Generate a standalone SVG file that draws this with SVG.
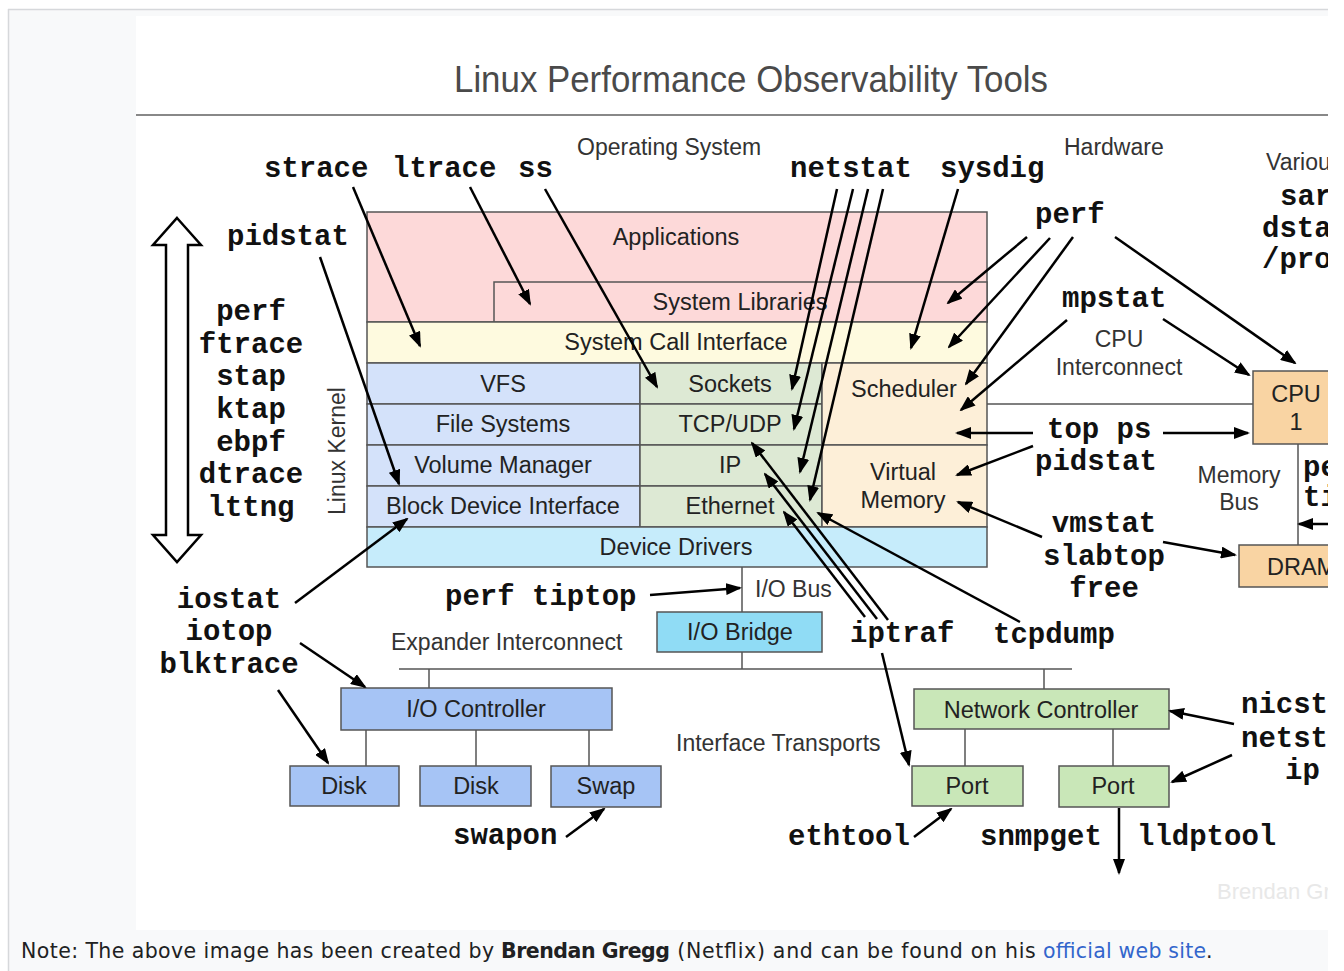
<svg xmlns="http://www.w3.org/2000/svg" width="1344" height="971" viewBox="0 0 1344 971">
<style>
.box{stroke:#555;stroke-width:1.5}
.lbl{font-family:"Liberation Sans",Arial,sans-serif;font-size:23.5px;fill:#222;text-anchor:middle}
.ann{font-family:"Liberation Sans",Arial,sans-serif;font-size:23px;fill:#333}
.mid{text-anchor:middle}
.tool{font-family:"Liberation Mono","Courier New",monospace;font-weight:bold;font-size:29px;fill:#111}
.arr{stroke:#000;stroke-width:2.5;fill:none;marker-end:url(#ah)}
.ln{stroke:#555;stroke-width:1.5;fill:none}
.pink{fill:#fdd9d9}.yel{fill:#fefadf}.blue{fill:#d4e2fa}.grn{fill:#dde9d4}.org{fill:#fdefd8}.cyan{fill:#c6ecfb}
.bridge{fill:#90dcf5}.dblue{fill:#a6c4f5}.lgrn{fill:#c9e7b8}.hw{fill:#f9d4a3}
.note{font-family:"DejaVu Sans",Verdana,sans-serif;font-size:20.5px;fill:#202122}
</style>
<defs>
<marker id="ah" viewBox="0 0 16 12" refX="14" refY="6" markerWidth="16" markerHeight="12" markerUnits="userSpaceOnUse" orient="auto">
<path d="M0,0 L16,6 L0,12 z" fill="#000"/>
</marker>
</defs>

<!-- page frame -->
<rect x="8" y="9" width="1320" height="962" fill="#f8f9fa"/>
<line x1="8" y1="9.5" x2="1328" y2="9.5" stroke="#d6d8db" stroke-width="1.5"/>
<line x1="8.5" y1="9" x2="8.5" y2="971" stroke="#d6d8db" stroke-width="1.5"/>
<rect x="136" y="16" width="1192" height="914" fill="#fff"/>

<!-- title -->
<g id="title">
<text x="454" y="92" font-family="'Liberation Sans',Arial,sans-serif" font-size="37" fill="#4a4a4a" textLength="594" lengthAdjust="spacingAndGlyphs">Linux Performance Observability Tools</text>
<line x1="136" y1="115" x2="1328" y2="115" stroke="#888" stroke-width="2"/>
</g>

<!-- region annotations -->
<g id="annotations">
<text class="ann" x="577" y="155">Operating System</text>
<text class="ann" x="1064" y="155">Hardware</text>
<text class="ann" x="1266" y="170">Variou</text>
<text class="ann mid" x="1119" y="347">CPU</text>
<text class="ann mid" x="1119" y="375">Interconnect</text>
<text class="ann mid" x="1239" y="483">Memory</text>
<text class="ann mid" x="1239" y="510">Bus</text>
<text class="ann" x="755" y="597">I/O Bus</text>
<text class="ann" x="391" y="650">Expander Interconnect</text>
<text class="ann" x="676" y="751">Interface Transports</text>
<text class="ann" transform="translate(345,515) rotate(-90)">Linux Kernel</text>
</g>

<!-- kernel stack -->
<g id="applications"><rect class="box pink" x="367" y="212" width="620" height="110"/><text class="lbl" x="676" y="245">Applications</text></g>
<g id="system-libraries"><rect class="box pink" x="494" y="282" width="493" height="40"/><text class="lbl" x="740" y="310">System Libraries</text></g>
<g id="system-call-interface"><rect class="box yel" x="367" y="322" width="620" height="41"/><text class="lbl" x="676" y="350">System Call Interface</text></g>
<g id="vfs"><rect class="box blue" x="367" y="363" width="273" height="41"/><text class="lbl" x="503" y="392">VFS</text></g>
<g id="file-systems"><rect class="box blue" x="367" y="404" width="273" height="41"/><text class="lbl" x="503" y="432">File Systems</text></g>
<g id="volume-manager"><rect class="box blue" x="367" y="445" width="273" height="41"/><text class="lbl" x="503" y="473">Volume Manager</text></g>
<g id="block-device-interface"><rect class="box blue" x="367" y="486" width="273" height="41"/><text class="lbl" x="503" y="514">Block Device Interface</text></g>
<g id="sockets"><rect class="box grn" x="640" y="363" width="182" height="41"/><text class="lbl" x="730" y="392">Sockets</text></g>
<g id="tcp-udp"><rect class="box grn" x="640" y="404" width="182" height="41"/><text class="lbl" x="730" y="432">TCP/UDP</text></g>
<g id="ip"><rect class="box grn" x="640" y="445" width="182" height="41"/><text class="lbl" x="730" y="473">IP</text></g>
<g id="ethernet"><rect class="box grn" x="640" y="486" width="182" height="41"/><text class="lbl" x="730" y="514">Ethernet</text></g>
<g id="scheduler"><rect class="box org" x="822" y="363" width="165" height="82"/><text class="lbl" x="904" y="397">Scheduler</text></g>
<g id="virtual-memory"><rect class="box org" x="822" y="445" width="165" height="82"/><text class="lbl" x="903" y="480">Virtual</text><text class="lbl" x="903" y="508">Memory</text></g>
<g id="device-drivers"><rect class="box cyan" x="367" y="527" width="620" height="40"/><text class="lbl" x="676" y="555">Device Drivers</text></g>

<!-- hardware -->
<g id="cpu"><rect class="box hw" x="1253" y="371" width="110" height="73"/><text class="lbl" x="1296" y="402">CPU</text><text class="lbl" x="1296" y="430">1</text></g>
<g id="dram"><rect class="box hw" x="1239" y="545" width="120" height="42"/><text class="lbl" x="1267" y="575" style="text-anchor:start">DRAM</text></g>
<g id="io-bridge"><rect class="box bridge" x="657" y="612" width="165" height="40"/><text class="lbl" x="740" y="640">I/O Bridge</text></g>
<g id="io-controller"><rect class="box dblue" x="341" y="688" width="271" height="42"/><text class="lbl" x="476" y="717">I/O Controller</text></g>
<g id="disk1"><rect class="box dblue" x="290" y="766" width="109" height="40"/><text class="lbl" x="344" y="794">Disk</text></g>
<g id="disk2"><rect class="box dblue" x="420" y="766" width="111" height="40"/><text class="lbl" x="476" y="794">Disk</text></g>
<g id="swap"><rect class="box dblue" x="551" y="766" width="110" height="41"/><text class="lbl" x="606" y="794">Swap</text></g>
<g id="network-controller"><rect class="box lgrn" x="914" y="689" width="255" height="40"/><text class="lbl" x="1041" y="718">Network Controller</text></g>
<g id="port1"><rect class="box lgrn" x="912" y="766" width="111" height="40"/><text class="lbl" x="967" y="794">Port</text></g>
<g id="port2"><rect class="box lgrn" x="1059" y="766" width="110" height="41"/><text class="lbl" x="1113" y="794">Port</text></g>

<!-- hollow double arrow -->
<g id="stack-arrow">
<polygon points="177,218 201,245 188,245 188,535 201,535 177,562 153,535 166,535 166,245 153,245" fill="#fff" stroke="#000" stroke-width="2.5" stroke-linejoin="miter"/>
</g>

<!-- tools -->
<g id="tools">
<text class="tool" x="264" y="177">strace</text>
<text class="tool" x="392" y="177">ltrace</text>
<text class="tool" x="518" y="177">ss</text>
<text class="tool" x="790" y="177">netstat</text>
<text class="tool" x="940" y="177">sysdig</text>
<text class="tool" x="227" y="245">pidstat</text>
<text class="tool mid" x="251" y="320">perf</text>
<text class="tool mid" x="251" y="353">ftrace</text>
<text class="tool mid" x="251" y="385">stap</text>
<text class="tool mid" x="251" y="418">ktap</text>
<text class="tool mid" x="251" y="451">ebpf</text>
<text class="tool mid" x="251" y="483">dtrace</text>
<text class="tool mid" x="251" y="516">lttng</text>
<text class="tool" x="1035" y="223">perf</text>
<text class="tool" x="1062" y="307">mpstat</text>
<text class="tool" x="1280" y="205">sar</text>
<text class="tool" x="1262" y="237">dsta</text>
<text class="tool" x="1262" y="268">/pro</text>
<text class="tool" x="1047" y="438">top ps</text>
<text class="tool" x="1035" y="470">pidstat</text>
<text class="tool mid" x="1104" y="532">vmstat</text>
<text class="tool mid" x="1104" y="565">slabtop</text>
<text class="tool mid" x="1104" y="597">free</text>
<text class="tool" x="1303" y="476">pe</text>
<text class="tool" x="1303" y="506">ti</text>
<text class="tool mid" x="229" y="608">iostat</text>
<text class="tool mid" x="229" y="640">iotop</text>
<text class="tool mid" x="229" y="673">blktrace</text>
<text class="tool" x="445" y="605">perf tiptop</text>
<text class="tool" x="850" y="642">iptraf</text>
<text class="tool" x="993" y="643">tcpdump</text>
<text class="tool" x="453" y="844">swapon</text>
<text class="tool" x="788" y="845">ethtool</text>
<text class="tool" x="980" y="845">snmpget</text>
<text class="tool" x="1137" y="845">lldptool</text>
<text class="tool" x="1241" y="713">nicst</text>
<text class="tool" x="1241" y="747">netst</text>
<text class="tool" x="1285" y="779">ip</text>
</g>

<!-- connectors -->
<g id="connectors">
<path class="ln" d="M742,567 V612 M742,652 V669 M399,669 H1072 M429,669 V688 M1044,669 V689 M366,730 V766 M476,730 V766 M589,730 V766 M965,729 V766 M1113,729 V766 M987,404 H1253 M1298,444 V545"/>
<line class="arr" x1="353" y1="187" x2="420" y2="346"/>
<line class="arr" x1="470" y1="187" x2="530" y2="304"/>
<line class="arr" x1="545" y1="189" x2="657" y2="387"/>
<line class="arr" x1="837" y1="189" x2="792" y2="389"/>
<line class="arr" x1="853" y1="189" x2="794" y2="429"/>
<line class="arr" x1="868" y1="189" x2="800" y2="472"/>
<line class="arr" x1="883" y1="189" x2="810" y2="500"/>
<line class="arr" x1="958" y1="189" x2="911" y2="348"/>
<line class="arr" x1="1027" y1="237" x2="948" y2="303"/>
<line class="arr" x1="1050" y1="238" x2="949" y2="347"/>
<line class="arr" x1="1073" y1="237" x2="966" y2="384"/>
<line class="arr" x1="1115" y1="237" x2="1295" y2="363"/>
<line class="arr" x1="1067" y1="320" x2="961" y2="410"/>
<line class="arr" x1="1163" y1="319" x2="1249" y2="375"/>
<line class="arr" x1="1033" y1="433" x2="957" y2="433"/>
<line class="arr" x1="1163" y1="433" x2="1248" y2="433"/>
<line class="arr" x1="1033" y1="446" x2="957" y2="475"/>
<line class="arr" x1="1042" y1="537" x2="958" y2="502"/>
<line class="arr" x1="1163" y1="542" x2="1235" y2="555"/>
<line class="arr" x1="1020" y1="622" x2="818" y2="513"/>
<line class="arr" x1="865" y1="617" x2="784" y2="512"/>
<line class="arr" x1="877" y1="619" x2="765" y2="474"/>
<line class="arr" x1="888" y1="620" x2="752" y2="443"/>
<line class="arr" x1="882" y1="653" x2="909" y2="765"/>
<line class="arr" x1="320" y1="257" x2="399" y2="484"/>
<line class="arr" x1="295" y1="603" x2="407" y2="519"/>
<line class="arr" x1="300" y1="643" x2="365" y2="687"/>
<line class="arr" x1="278" y1="690" x2="328" y2="763"/>
<line class="arr" x1="650" y1="595" x2="740" y2="588"/>
<line class="arr" x1="566" y1="837" x2="604" y2="809"/>
<line class="arr" x1="914" y1="837" x2="951" y2="809"/>
<line class="arr" x1="1119" y1="808" x2="1119" y2="873"/>
<line class="arr" x1="1234" y1="724" x2="1170" y2="711"/>
<line class="arr" x1="1232" y1="755" x2="1172" y2="782"/>
<line class="arr" x1="1340" y1="524" x2="1299" y2="524"/>
</g>

<g id="watermark"><text x="1217" y="899" font-family="'Liberation Sans',Arial,sans-serif" font-size="22" fill="#e8e8e8">Brendan Gr</text></g>

<!-- caption -->
<g id="caption">
<text class="note" y="958"><tspan x="21" textLength="480">Note: The above image has been created by </tspan><tspan x="501" font-weight="bold" textLength="169">Brendan Gregg</tspan><tspan x="670" textLength="373"> (Netflix) and can be found on his </tspan><tspan x="1043" fill="#3366cc" textLength="163">official web site</tspan><tspan x="1206">.</tspan></text>
</g>

<!-- right edge mask -->
<rect x="1328" y="0" width="16" height="971" fill="#fff"/>
</svg>
